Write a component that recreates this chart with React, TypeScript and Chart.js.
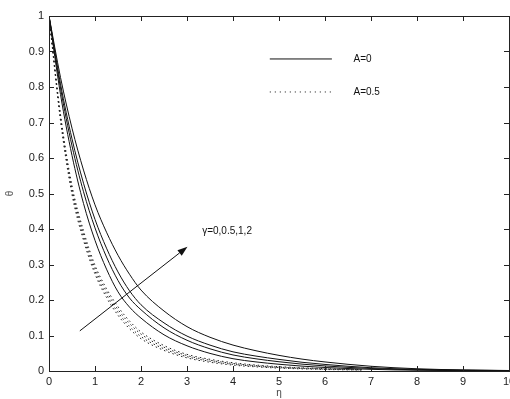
import { useEffect, useRef } from "react";
import { Chart, registerables } from "chart.js";

Chart.register(...registerables);

// Similarity variable grid for the A=0 profiles
const etaSolid = [0, 0.25, 0.5, 0.75, 1, 1.25, 1.5, 1.75, 2, 2.5, 3, 3.5, 4, 4.5, 5, 5.5, 6, 7, 8, 9, 10];
// A = 0, gamma = 0, 0.5, 1, 2
const solidG0 = [1, 0.779, 0.607, 0.472, 0.368, 0.287, 0.223, 0.18, 0.149, 0.102, 0.071, 0.0496, 0.0346, 0.0256, 0.019, 0.0137, 0.0099, 0.0047, 0.0022, 0.001, 0.0005];
const solidG05 = [1, 0.797, 0.634, 0.505, 0.403, 0.321, 0.255, 0.2056, 0.1725, 0.1216, 0.0866, 0.0625, 0.0452, 0.0343, 0.0261, 0.0193, 0.0143, 0.007, 0.0034, 0.00165, 0.0008];
const solidG1 = [1, 0.809, 0.654, 0.529, 0.427, 0.346, 0.279, 0.226, 0.1866, 0.1355, 0.0984, 0.0729, 0.054, 0.042, 0.0327, 0.0246, 0.0185, 0.0092, 0.0046, 0.0023, 0.0011];
const solidG2 = [1, 0.827, 0.684, 0.566, 0.468, 0.391, 0.326, 0.2725, 0.228, 0.169, 0.125, 0.095, 0.073, 0.057, 0.044, 0.0335, 0.0255, 0.0133, 0.0063, 0.003, 0.0014];

// Grid for the A=0.5 profiles
const etaDotted = [0, 0.25, 0.5, 0.75, 1, 1.25, 1.5, 1.75, 2, 2.5, 3, 3.5, 4, 4.5, 5, 6, 6.8];
const dottedG0 = [1, 0.705, 0.497, 0.368, 0.273, 0.207, 0.157, 0.119, 0.091, 0.058, 0.037, 0.0247, 0.0166, 0.0117, 0.0082, 0.0043, 0.0026];
const dottedG05 = [1, 0.711, 0.505, 0.377, 0.281, 0.215, 0.165, 0.126, 0.097, 0.0625, 0.0403, 0.0275, 0.0188, 0.0134, 0.0095, 0.0051, 0.0031];
const dottedG1 = [1, 0.717, 0.514, 0.386, 0.29, 0.224, 0.173, 0.134, 0.104, 0.067, 0.0436, 0.0303, 0.0211, 0.0151, 0.0109, 0.0059, 0.0036];
const dottedG2 = [1, 0.723, 0.522, 0.395, 0.298, 0.232, 0.181, 0.141, 0.11, 0.0717, 0.0469, 0.033, 0.0233, 0.0168, 0.0122, 0.0067, 0.0041];

const xTicks = [0, 1, 2, 3, 4, 5, 6, 7, 8, 9, 10];
const yTicks = [0, 0.1, 0.2, 0.3, 0.4, 0.5, 0.6, 0.7, 0.8, 0.9, 1];

const legendLabels = ["A=0", "A=0.5"];
const arrowFrom = { x: 0.67, y: 0.113 };
const arrowTo = { x: 3.01, y: 0.35 };
const arrowLabel = "γ=0,0.5,1,2";
const arrowLabelAt = { x: 3.33, y: 0.395 };

const FONT = "'Liberation Sans', Arial, sans-serif";
const INK = "#111";

function pts(xs: number[], ys: number[]) {
  return xs.map((x, i) => ({ x, y: ys[i] }));
}

const frameAndNotes = {
  id: "frameAndNotes",
  afterDatasetsDraw(chart: any) {
    const { ctx, chartArea: a, scales } = chart;
    const xs = scales.x;
    const ys = scales.y;
    const tl = 5;
    ctx.save();
    ctx.strokeStyle = "#222";
    ctx.lineWidth = 1;
    // box
    ctx.strokeRect(a.left + 0.5, a.top + 0.5, a.right - a.left, a.bottom - a.top);
    // inward ticks on all four sides
    ctx.beginPath();
    xTicks.forEach((t) => {
      const px = Math.round(xs.getPixelForValue(t)) + 0.5;
      ctx.moveTo(px, a.bottom);
      ctx.lineTo(px, a.bottom - tl);
      ctx.moveTo(px, a.top);
      ctx.lineTo(px, a.top + tl);
    });
    yTicks.forEach((t) => {
      const py = Math.round(ys.getPixelForValue(t)) + 0.5;
      ctx.moveTo(a.left, py);
      ctx.lineTo(a.left + tl, py);
      ctx.moveTo(a.right, py);
      ctx.lineTo(a.right - tl, py);
    });
    ctx.stroke();

    // legend
    ctx.strokeStyle = INK;
    ctx.fillStyle = INK;
    ctx.font = `10px ${FONT}`;
    ctx.textBaseline = "middle";
    const lx0 = xs.getPixelForValue(4.8);
    const lx1 = xs.getPixelForValue(6.15);
    const tx = xs.getPixelForValue(6.62);
    const ly0 = ys.getPixelForValue(0.879);
    const ly1 = ys.getPixelForValue(0.786);
    ctx.beginPath();
    ctx.moveTo(lx0, ly0);
    ctx.lineTo(lx1, ly0);
    ctx.stroke();
    ctx.setLineDash([1, 4]);
    ctx.beginPath();
    ctx.moveTo(lx0, ly1);
    ctx.lineTo(lx1, ly1);
    ctx.stroke();
    ctx.setLineDash([]);
    ctx.fillText(legendLabels[0], tx, ly0);
    ctx.fillText(legendLabels[1], tx, ly1);

    // gamma arrow
    const ax0 = xs.getPixelForValue(arrowFrom.x);
    const ay0 = ys.getPixelForValue(arrowFrom.y);
    const ax1 = xs.getPixelForValue(arrowTo.x);
    const ay1 = ys.getPixelForValue(arrowTo.y);
    const ang = Math.atan2(ay1 - ay0, ax1 - ax0);
    const hl = 10;
    const hw = 3.5;
    const bx = ax1 - hl * Math.cos(ang);
    const by = ay1 - hl * Math.sin(ang);
    ctx.beginPath();
    ctx.moveTo(ax0, ay0);
    ctx.lineTo(bx, by);
    ctx.stroke();
    ctx.beginPath();
    ctx.moveTo(ax1, ay1);
    ctx.lineTo(bx + hw * Math.sin(ang), by - hw * Math.cos(ang));
    ctx.lineTo(bx - hw * Math.sin(ang), by + hw * Math.cos(ang));
    ctx.closePath();
    ctx.fill();
    ctx.fillText(arrowLabel, xs.getPixelForValue(arrowLabelAt.x), ys.getPixelForValue(arrowLabelAt.y));
    ctx.restore();
  },
};

export default function App() {
  const ref = useRef<HTMLCanvasElement | null>(null);

  useEffect(() => {
    document.body.style.margin = "0";
    const canvas = ref.current;
    if (!canvas) return;

    const solid = (data: number[]) => ({
      data: pts(etaSolid, data),
      borderColor: INK,
      borderWidth: 1,
      pointRadius: 0,
      fill: false,
      cubicInterpolationMode: "monotone" as const,
    });
    const dotted = (data: number[]) => ({
      data: pts(etaDotted, data),
      borderColor: "#222",
      borderWidth: 1,
      borderDash: [1.5, 3],
      pointRadius: 0,
      fill: false,
      cubicInterpolationMode: "monotone" as const,
    });

    const chart = new Chart(canvas, {
      type: "line",
      data: {
        datasets: [
          solid(solidG0),
          solid(solidG05),
          solid(solidG1),
          solid(solidG2),
          dotted(dottedG0),
          dotted(dottedG05),
          dotted(dottedG1),
          dotted(dottedG2),
        ],
      },
      options: {
        animation: false,
        responsive: false,
        maintainAspectRatio: false,
        layout: { padding: { top: 16, right: 1, left: 0, bottom: 0 } },
        plugins: {
          legend: { display: false },
          tooltip: { enabled: false },
        },
        scales: {
          x: {
            type: "linear",
            min: 0,
            max: 10,
            afterBuildTicks: (s: any) => {
              s.ticks = xTicks.map((v) => ({ value: v }));
            },
            ticks: {
              color: "#222",
              font: { family: FONT, size: 11 },
              padding: 4,
              maxRotation: 0,
              autoSkip: false,
              callback: (v: any) => String(v),
            },
            grid: { display: false, drawTicks: false },
            border: { display: true, color: "#222" },
            title: {
              display: true,
              text: "η",
              color: "#444",
              font: { family: FONT, size: 10 },
              padding: 0,
            },
            afterFit: (s: any) => {
              s.height = 28;
              s.paddingLeft = 0;
              s.paddingRight = 0;
            },
          },
          y: {
            type: "linear",
            min: 0,
            max: 1,
            afterBuildTicks: (s: any) => {
              s.ticks = yTicks.map((v) => ({ value: v }));
            },
            ticks: {
              color: "#222",
              font: { family: FONT, size: 11 },
              padding: 5,
              autoSkip: false,
              callback: (v: any) => String(Math.round(Number(v) * 10) / 10),
            },
            grid: { display: false, drawTicks: false },
            border: { display: true, color: "#222" },
            title: {
              display: true,
              text: "θ",
              color: "#555",
              font: { family: FONT, size: 10 },
              padding: { top: 4, bottom: 0 },
            },
            afterFit: (s: any) => {
              s.width = 49;
              s.paddingTop = 0;
              s.paddingBottom = 0;
            },
          },
        },
      },
      plugins: [frameAndNotes],
    });

    return () => chart.destroy();
  }, []);

  return (
    <div style={{ position: "relative", width: 510, height: 399, background: "#fff" }}>
      <canvas ref={ref} width={510} height={399} style={{ display: "block", width: 510, height: 399 }} />
    </div>
  );
}
